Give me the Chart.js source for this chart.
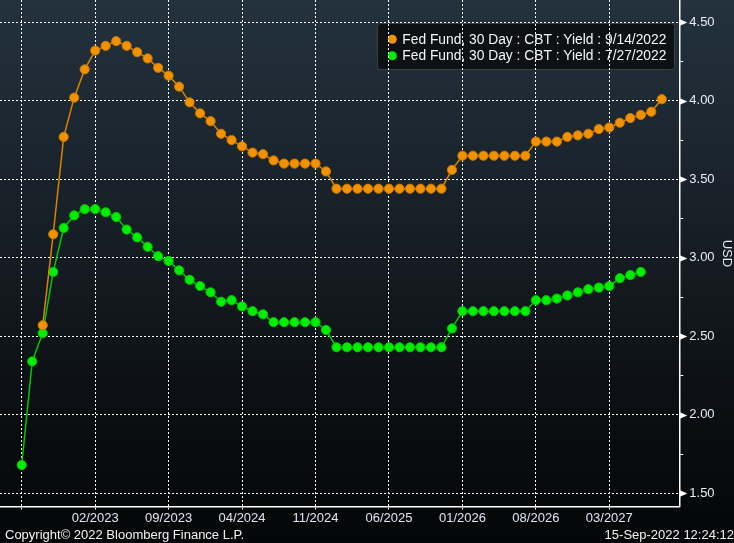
<!DOCTYPE html>
<html><head><meta charset="utf-8">
<script src="https://cdn.jsdelivr.net/npm/chart.js@4"></script>
<style>
html,body{margin:0;padding:0;background:#000;}
#wrap{position:relative;width:734px;height:543px;overflow:hidden;}
canvas{display:block;}
.foot{position:absolute;font:13px "Liberation Sans",Arial,sans-serif;color:#f2f2f2;white-space:nowrap;line-height:15px;}
</style></head><body>
<div id="wrap"><canvas id="c" width="734" height="543"></canvas>
<div class="foot" style="left:5px;top:527px">Copyright© 2022 Bloomberg Finance L.P.</div>
<div class="foot" style="right:0;top:527px">15-Sep-2022 12:24:12</div>
</div>
<script>
// ---- data ----
const months = ['07/2022','08/2022','09/2022','10/2022','11/2022','12/2022',
 '01/2023','02/2023','03/2023','04/2023','05/2023','06/2023','07/2023','08/2023','09/2023','10/2023','11/2023','12/2023',
 '01/2024','02/2024','03/2024','04/2024','05/2024','06/2024','07/2024','08/2024','09/2024','10/2024','11/2024','12/2024',
 '01/2025','02/2025','03/2025','04/2025','05/2025','06/2025','07/2025','08/2025','09/2025','10/2025','11/2025','12/2025',
 '01/2026','02/2026','03/2026','04/2026','05/2026','06/2026','07/2026','08/2026','09/2026','10/2026','11/2026','12/2026',
 '01/2027','02/2027','03/2027','04/2027','05/2027','06/2027','07/2027','08/2027'];
const seriesNames = ['Fed Fund, 30 Day : CBT : Yield : 9/14/2022','Fed Fund, 30 Day : CBT : Yield : 7/27/2022'];
const curveSep14 = [null,null,2.57,3.15,3.77,4.02,4.20,4.32,4.35,4.38,4.35,4.31,4.27,4.21,4.16,4.09,3.99,3.92,3.87,3.79,3.75,3.71,
 3.67,3.66,3.62,3.60,3.60,3.60,3.60,3.55,
 3.44,3.44,3.44,3.44,3.44,3.44,3.44,3.44,3.44,3.44,3.44,
 3.56,3.65,3.65,3.65,3.65,3.65,3.65,3.65,
 3.74,3.74,3.74,3.77,3.78,3.79,3.82,3.83,3.86,3.89,3.91,3.93,4.01];
const curveJul27 = [1.68,2.34,2.52,2.91,3.19,3.27,3.31,3.31,3.29,3.26,3.18,3.13,3.07,3.01,2.98,2.92,2.86,2.82,2.78,2.72,2.73,2.69,
 2.66,2.64,2.59,2.59,2.59,2.59,2.59,2.54,
 2.43,2.43,2.43,2.43,2.43,2.43,2.43,2.43,2.43,2.43,2.43,
 2.55,2.66,2.66,2.66,2.66,2.66,2.66,2.66,
 2.73,2.73,2.74,2.76,2.78,2.80,2.81,2.82,2.87,2.89,2.91,null,null];
const tickMonths = ['07/2022','02/2023','09/2023','04/2024','11/2024','06/2025','01/2026','08/2026','03/2027'];
const hiddenTickMonths = ['07/2022'];
const yTickValues = [1.50,1.75,2.00,2.25,2.50,2.75,3.00,3.25,3.50,3.75,4.00,4.25,4.50];
const yAxisTitle = 'USD';

const toPoints = arr => arr.map((v,i)=>({x:i,y:v}));
const isMajor = v => Math.abs(v*2 - Math.round(v*2)) < 1e-6;
const zeroPad = s => { s.paddingLeft = 0; s.paddingRight = 0; s.paddingTop = 0; s.paddingBottom = 0; };

const bgPlugin = {
  id:'bgLegend',
  beforeDraw(chart){
    const {ctx,width,height} = chart;
    ctx.save();
    const g = ctx.createLinearGradient(0,0,0,height);
    g.addColorStop(0,'#23323e'); g.addColorStop(0.35,'#19222a'); g.addColorStop(0.7,'#0d1115'); g.addColorStop(1,'#040506');
    ctx.fillStyle = g; ctx.fillRect(0,0,width,height);
    // legend box
    const x0=377.5,y0=23.5,w=297,h=46,r=3;
    ctx.beginPath();
    ctx.moveTo(x0+r,y0); ctx.lineTo(x0+w-r,y0); ctx.arcTo(x0+w,y0,x0+w,y0+r,r);
    ctx.lineTo(x0+w,y0+h-r); ctx.arcTo(x0+w,y0+h,x0+w-r,y0+h,r);
    ctx.lineTo(x0+r,y0+h); ctx.arcTo(x0,y0+h,x0,y0+h-r,r);
    ctx.lineTo(x0,y0+r); ctx.arcTo(x0,y0,x0+r,y0,r); ctx.closePath();
    ctx.fillStyle='#0d1114'; ctx.fill();
    ctx.strokeStyle='#3a4046'; ctx.lineWidth=1; ctx.stroke();
    ctx.font = '13.8px "Liberation Sans", Arial, sans-serif';
    ctx.textBaseline='middle'; ctx.textAlign='left';
    chart.data.datasets.forEach((ds,i)=>{
      const cy = 39.3 + i*16.4;
      ctx.beginPath(); ctx.arc(392.3,cy,4.5,0,Math.PI*2);
      ctx.fillStyle = ds.pointBackgroundColor; ctx.fill();
      ctx.fillStyle = '#f4f6f8';
      ctx.fillText(ds.label,402.3,cy+0.5);
    });
    ctx.restore();
  },
  afterDraw(chart){
    const {ctx} = chart;
    const ys = chart.scales.y;
    const x = chart.chartArea.right;
    ctx.save(); ctx.fillStyle='#ffffff';
    ys.ticks.forEach(t=>{
      if(!isMajor(t.value)) return;
      const y = Math.round(ys.getPixelForValue(t.value)) + 0.5;
      ctx.beginPath(); ctx.moveTo(x,y-3.5); ctx.lineTo(x+8,y); ctx.lineTo(x,y+3.5); ctx.closePath(); ctx.fill();
    });
    ctx.restore();
  }
};

new Chart(document.getElementById('c'), {
  type:'line',
  data:{datasets:[
    {label:seriesNames[0], data:toPoints(curveSep14), borderColor:'#d98500', borderWidth:1.5,
     pointBackgroundColor:'#f39200', pointBorderColor:'#c87800', pointBorderWidth:1, pointRadius:4.6, spanGaps:false},
    {label:seriesNames[1], data:toPoints(curveJul27), borderColor:'#00c800', borderWidth:1.5,
     pointBackgroundColor:'#00ee00', pointBorderColor:'#00c400', pointBorderWidth:1, pointRadius:4.6, spanGaps:false}
  ]},
  options:{
    responsive:false, animation:false,
    layout:{padding:0, autoPadding:false},
    plugins:{legend:{display:false}, tooltip:{enabled:false}},
    elements:{line:{tension:0}},
    scales:{
      x:{type:'linear', position:'bottom', min:-2.07, max:62.67,
        afterBuildTicks: s => { s.ticks = tickMonths.map(m=>({value:months.indexOf(m)})); },
        afterFit: s => { s.height = 36.3; zeroPad(s); },
        ticks:{color:'#dde7f3', font:{family:'"Liberation Sans", Arial, sans-serif', size:13}, padding:0, maxRotation:0, autoSkip:false,
          callback: v => { const m = months[v]; return hiddenTickMonths.includes(m) ? '' : m; }},
        grid:{color:'#ffffff', lineWidth:1, tickBorderDash:[2,2], tickLength:4, tickColor:'#ffffff', drawTicks:true},
        border:{display:true, color:'#ffffff', width:1.5, dash:[2,2]}
      },
      y:{type:'linear', position:'right', min:1.4146, max:4.642,
        afterBuildTicks: s => { s.ticks = yTickValues.map(v=>({value:v})); },
        afterFit: s => { s.width = 54.7; zeroPad(s); },
        ticks:{color:'#e6edf5', font:{family:'"Liberation Sans", Arial, sans-serif', size:13}, padding:6,
          callback: v => isMajor(v) ? v.toFixed(2) : ''},
        grid:{color: c => isMajor(c.tick.value) ? '#ffffff' : 'rgba(0,0,0,0)', lineWidth:1,
          tickLength:4, tickColor: c => isMajor(c.tick.value) ? 'rgba(0,0,0,0)' : '#ffffff', drawTicks:true, tickBorderDash:[]},
        border:{display:true, color:'#ffffff', width:1.5, dash:[2,2]},
        title:{display:true, text:yAxisTitle, color:'#dde7f3', font:{family:'"Liberation Sans", Arial, sans-serif', size:13}, padding:{top:0,bottom:0}}
      }
    }
  },
  plugins:[bgPlugin]
});
</script>
</body></html>
